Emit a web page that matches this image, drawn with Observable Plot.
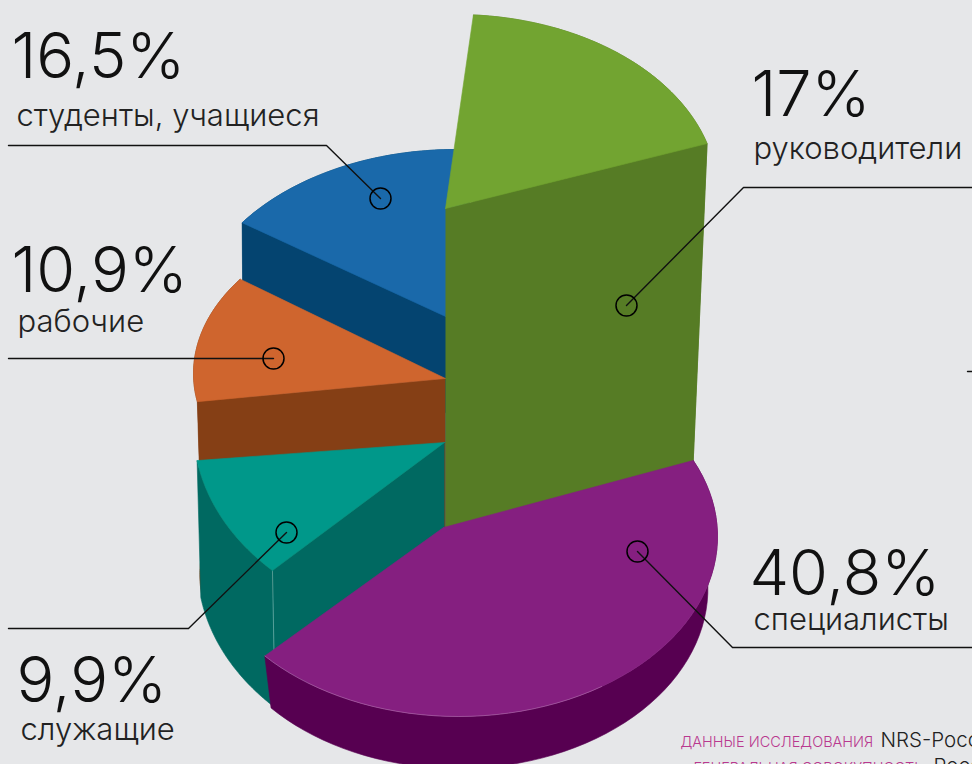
<!DOCTYPE html>
<html><head><meta charset="utf-8">
<script src="https://cdn.jsdelivr.net/npm/d3@7"></script>
<script src="https://cdn.jsdelivr.net/npm/@observablehq/plot@0.6"></script>
<style>html,body{margin:0;padding:0;background:#e6e7e9;overflow:hidden}svg{display:block}</style>
</head><body><div id="chart"></div>
<script>
// Data, in drawing order of the pie (clockwise)
const names = ["руководители","специалисты","служащие","рабочие","студенты, учащиеся"];
const shares = [17, 40.8, 9.9, 10.9, 16.5];
const pctLabels = ["17%","40,8%","9,9%","10,9%","16,5%"];
const topColors = ["#72a431","#851f80","#00988a","#cf652e","#1a69aa"];
const wallColors = ["#567c25","#570051","#006961","#853f15","#044470"];

// Projection of each stepped slice
const apexX = [445,443,444,445,445];
const apexY = [208,527,442,378,316];
const rimCx = [455,458,455,453,455];
const rimCy = [193,536,427,373,329];
const rimRx = [262,259,262,260,265];
const rimRy = [179,180,200,165,180];
const baseY = 579;
const taper = [0.938,0.965,0.985,0.975,0.99];
const nudgeStart = [0,-1.5,-2,0.3,1];
const nudgeEnd = [0,-1,2,2.3,0];
const tilt = 0.68, startDeg = -84.4;

const W = 972, H = 764;
const total = d3.sum(shares);
let acc = startDeg;
const angles = shares.map((s, i) => { const a0 = acc; acc += s / total * 360; return [a0 + nudgeStart[i], acc + nudgeEnd[i]]; });

function rim(i, deg) {
  const t = deg * Math.PI / 180, dx = Math.cos(t), dy = tilt * Math.sin(t);
  const ox = (apexX[i] - rimCx[i]) / rimRx[i], oy = (apexY[i] - rimCy[i]) / rimRy[i];
  const ux = dx / rimRx[i], uy = dy / rimRy[i];
  const a = ux*ux + uy*uy, b = 2*(ox*ux + oy*uy), c = ox*ox + oy*oy - 1;
  const k = (-b + Math.sqrt(b*b - 4*a*c)) / (2*a);
  return {x: apexX[i] + k*dx, y: apexY[i] + k*dy};
}
function drop(i, p) {
  return {x: apexX[i] + (p.x - apexX[i]) * taper[i], y: p.y + baseY - apexY[i]};
}
const face = (pts, color) => Plot.line(pts, {x:"x", y:"y", fill:color, stroke:color, strokeWidth:0.6, curve:"linear"});

const order = [4,3,2,0,1];
const faces = [];
const arcs = {};
for (const i of order) {
  const [a0, a1] = angles[i];
  const arc = d3.range(0, 61).map(k => rim(i, a0 + (a1 - a0) * k / 60));
  arcs[i] = arc;
  const apex = {x: apexX[i], y: apexY[i]};
  faces.push(face([...arc, ...arc.map(p => drop(i, p)).reverse()], wallColors[i]));
  if (Math.cos(a0*Math.PI/180) < 0) faces.push(face([apex, arc[0], drop(i, arc[0]), drop(i, apex)], wallColors[i]));
  if (Math.cos(a1*Math.PI/180) > 0) faces.push(face([apex, arc[60], drop(i, arc[60]), drop(i, apex)], wallColors[i]));
  if (i === 2) faces.push(Plot.line([arc[0], drop(i, arc[0])], {x:"x", y:"y", stroke:"#6fb0ab", strokeWidth:0.7}));
  faces.push(face([apex, ...arc, apex], topColors[i]));
}
// thin light seam along the front rim of the purple slice
const seam = Plot.line(arcs[1].slice(30), {x:"x", y:"y", stroke:"#c48fc1", strokeWidth:0.6, strokeOpacity:0.7});

// Leader lines and label layout
const leaders = [
  [[972,187],[743,187],[626,305]],
  [[972,647],[732,647],[637,551]],
  [[8,628],[188,628],[286,532]],
  [[8,358],[273,358]],
  [[8,145],[326,145],[380,198]],
  [[967,371],[972,371]]
];
const leaderRows = leaders.flatMap((l, id) => l.map(([x,y]) => ({id,x,y})));
const circleRows = [[626,305],[637,551],[286,532],[273,358],[380,198]].map(([x,y]) => ({x,y}));
const pctPos = [[751,116],[749,595],[16,702],[11,292],[11,78]];
const namePos = [[753,158],[753,629],[20,739],[17,331],[16,125]];

const font = "Inter, sans-serif";
const pctRows = pctLabels.map((t,i)=>({t, x:pctPos[i][0], y:pctPos[i][1]-1}));
const nameRows = names.map((t,i)=>({t, x:namePos[i][0], y:namePos[i][1]}));

const chart = Plot.plot({
  width:W, height:H, margin:0,
  style:{background:"#e6e7e9"},
  x:{domain:[0,W], range:[0,W], axis:null},
  y:{domain:[0,H], range:[0,H], axis:null},
  marks:[
    ...faces,
    seam,
    Plot.line(leaderRows, {x:"x", y:"y", z:"id", stroke:"#111", strokeWidth:1.4}),
    Plot.dot(circleRows, {x:"x", y:"y", r:10.5, stroke:"#000", strokeWidth:1.5, fill:"none"}),
    Plot.text(pctRows, {x:"x", y:"y", text:"t", textAnchor:"start", lineAnchor:"bottom", fontSize:63, fontWeight:300, fontFamily:font, fill:"#111"}),
    Plot.text(nameRows, {x:"x", y:"y", text:"t", textAnchor:"start", lineAnchor:"bottom", fontSize:31, fontWeight:300, fontFamily:font, fill:"#222"}),
    Plot.text([{x:680,y:746,t:"ДАННЫЕ ИССЛЕДОВАНИЯ"},{x:693,y:772,t:"ГЕНЕРАЛЬНАЯ СОВОКУПНОСТЬ"}], {x:"x", y:"y", text:"t", textAnchor:"start", lineAnchor:"bottom", fontSize:14.5, fontWeight:300, fontFamily:font, fill:"#b9398f"}),
    Plot.text([{x:880,y:746,t:"NRS-Россия"},{x:933,y:772,t:"Россия"}], {x:"x", y:"y", text:"t", textAnchor:"start", lineAnchor:"bottom", fontSize:20.5, fontWeight:300, fontFamily:font, fill:"#222"})
  ]
});
document.getElementById("chart").append(chart);
</script></body></html>
